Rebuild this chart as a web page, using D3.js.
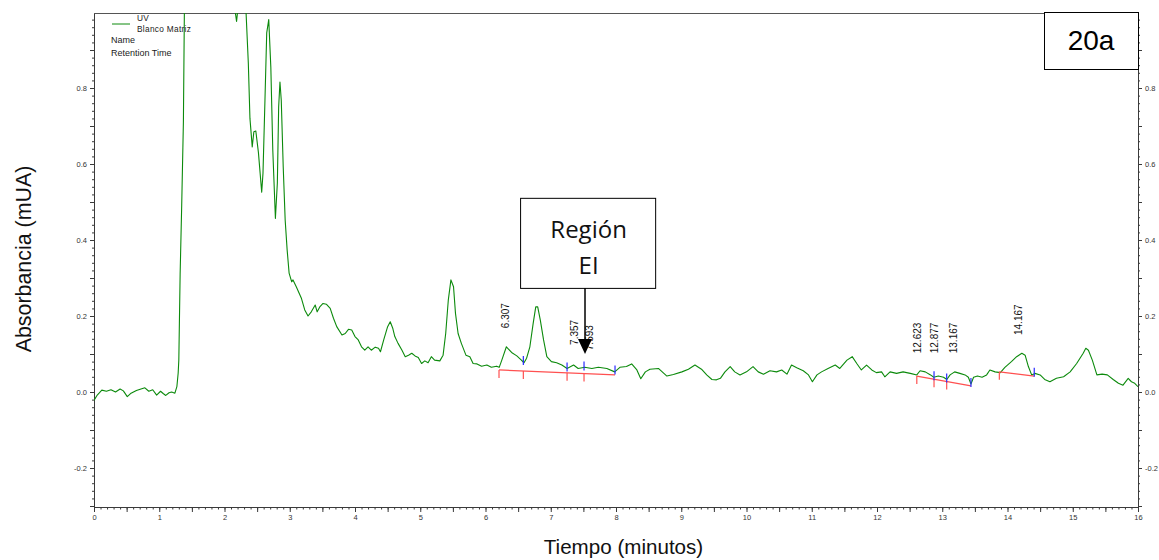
<!DOCTYPE html>
<html>
<head>
<meta charset="utf-8">
<script src="https://cdn.jsdelivr.net/npm/d3@7"></script>
<style>
  body { margin: 0; background: #fff; }
  svg { display: block; font-family: "Liberation Sans", Arial, sans-serif; }
</style>
</head>
<body>
<div id="main"></div>
<script>
// chromatogram trace (time in minutes, absorbance)
var timeMin = [
  0.00, 0.05, 0.12, 0.19, 0.26, 0.33, 0.40, 0.45, 0.51, 0.56,
  0.65, 0.72, 0.78, 0.84, 0.90, 0.96, 1.02, 1.06, 1.10, 1.15,
  1.19, 1.24, 1.27, 1.29, 1.30, 1.32, 1.344, 1.37, 1.385, 1.40,
  2.15, 2.165, 2.185, 2.20, 2.22, 2.31, 2.33, 2.365, 2.39, 2.425,
  2.45, 2.48, 2.52, 2.57, 2.59, 2.62, 2.647, 2.678, 2.71, 2.74,
  2.78, 2.81, 2.83, 2.85, 2.87, 2.90, 2.93, 2.96, 2.99, 3.03,
  3.05, 3.10, 3.18, 3.23, 3.28, 3.33, 3.39, 3.42, 3.46, 3.51,
  3.56, 3.62, 3.67, 3.72, 3.80, 3.85, 3.90, 3.95, 4.00, 4.05,
  4.10, 4.15, 4.20, 4.25, 4.31, 4.36, 4.39, 4.44, 4.50, 4.54,
  4.58, 4.61, 4.66, 4.72, 4.77, 4.82, 4.87, 4.92, 4.97, 5.02,
  5.07, 5.12, 5.17, 5.22, 5.30, 5.35, 5.39, 5.43, 5.47, 5.51,
  5.54, 5.58, 5.63, 5.70, 5.76, 5.81, 5.87, 5.94, 6.02, 6.09,
  6.17, 6.21, 6.25, 6.32, 6.40, 6.48, 6.55, 6.59, 6.63, 6.68,
  6.73, 6.77, 6.80, 6.84, 6.89, 6.94, 7.01, 7.09, 7.17, 7.25,
  7.35, 7.42, 7.52, 7.63, 7.73, 7.86, 7.98, 8.06, 8.16, 8.24,
  8.32, 8.38, 8.45, 8.52, 8.65, 8.78, 8.88, 9.01, 9.11, 9.21,
  9.31, 9.39, 9.47, 9.54, 9.60, 9.67, 9.75, 9.82, 9.90, 10.00,
  10.10, 10.18, 10.26, 10.36, 10.46, 10.54, 10.62, 10.69, 10.77, 10.87,
  10.95, 11.01, 11.08, 11.15, 11.25, 11.36, 11.43, 11.54, 11.62, 11.69,
  11.76, 11.84, 11.92, 11.99, 12.07, 12.12, 12.20, 12.30, 12.40, 12.51,
  12.61, 12.66, 12.74, 12.82, 12.87, 12.94, 13.02, 13.07, 13.12, 13.19,
  13.27, 13.35, 13.40, 13.44, 13.48, 13.54, 13.61, 13.68, 13.73, 13.81,
  13.89, 13.96, 14.06, 14.14, 14.22, 14.27, 14.32, 14.37, 14.42, 14.50,
  14.57, 14.65, 14.75, 14.86, 14.96, 15.06, 15.16, 15.20, 15.24, 15.30,
  15.37, 15.45, 15.53, 15.62, 15.70, 15.77, 15.85, 15.90, 15.95, 16.00
];
var absorbance = [
  -0.022, -0.008, 0.005, 0.002, 0.006, 0.000, 0.008, 0.003, -0.012, -0.004,
  0.004, 0.008, 0.011, 0.002, 0.006, -0.008, 0.002, -0.004, -0.009, -0.002,
  0.000, -0.003, 0.014, 0.050, 0.084, 0.310, 0.490, 0.710, 1.000, 1.250,
  1.250, 1.000, 0.975, 1.000, 1.250, 1.250, 1.000, 0.866, 0.720, 0.645,
  0.685, 0.687, 0.630, 0.526, 0.576, 0.768, 0.945, 0.980, 0.855, 0.637,
  0.457, 0.550, 0.750, 0.816, 0.768, 0.592, 0.452, 0.374, 0.313, 0.290,
  0.295, 0.277, 0.246, 0.216, 0.200, 0.211, 0.229, 0.211, 0.224, 0.233,
  0.231, 0.220, 0.194, 0.172, 0.150, 0.154, 0.165, 0.163, 0.146, 0.137,
  0.119, 0.110, 0.119, 0.110, 0.118, 0.115, 0.106, 0.137, 0.172, 0.185,
  0.167, 0.146, 0.128, 0.110, 0.093, 0.097, 0.102, 0.095, 0.091, 0.075,
  0.082, 0.077, 0.093, 0.084, 0.082, 0.097, 0.154, 0.242, 0.295, 0.277,
  0.207, 0.154, 0.128, 0.097, 0.093, 0.075, 0.074, 0.068, 0.071, 0.065,
  0.068, 0.065, 0.084, 0.119, 0.104, 0.095, 0.084, 0.077, 0.089, 0.119,
  0.180, 0.224, 0.224, 0.189, 0.137, 0.093, 0.080, 0.077, 0.071, 0.062,
  0.071, 0.062, 0.065, 0.062, 0.065, 0.062, 0.053, 0.065, 0.067, 0.074,
  0.058, 0.035, 0.053, 0.060, 0.062, 0.042, 0.046, 0.053, 0.060, 0.071,
  0.060, 0.045, 0.033, 0.032, 0.036, 0.053, 0.067, 0.053, 0.045, 0.053,
  0.067, 0.053, 0.047, 0.056, 0.053, 0.058, 0.047, 0.071, 0.064, 0.056,
  0.045, 0.027, 0.045, 0.053, 0.062, 0.071, 0.062, 0.084, 0.093, 0.075,
  0.058, 0.071, 0.058, 0.051, 0.053, 0.040, 0.053, 0.049, 0.053, 0.049,
  0.045, 0.056, 0.053, 0.045, 0.039, 0.042, 0.039, 0.033, 0.045, 0.053,
  0.049, 0.045, 0.039, 0.021, 0.039, 0.042, 0.039, 0.045, 0.058, 0.053,
  0.051, 0.065, 0.080, 0.093, 0.102, 0.097, 0.067, 0.045, 0.049, 0.045,
  0.033, 0.027, 0.036, 0.040, 0.053, 0.075, 0.102, 0.115, 0.110, 0.084,
  0.045, 0.047, 0.045, 0.033, 0.023, 0.018, 0.036, 0.027, 0.023, 0.014
];

// retention time labels and the absorbance where each label starts
var peakLabels = ["6.307", "7.357", "7.593", "12.623", "12.877", "13.167", "14.167"];
var peakLabelFrom = [0.168, 0.124, 0.110, 0.102, 0.102, 0.102, 0.150];

// integration baselines: [start time, start abs, end time, end abs]
var baselines = [
  [6.207, 0.058, 7.985, 0.045],
  [12.61, 0.042, 13.44, 0.016],
  [13.875, 0.053, 14.41, 0.042]
];
var redMarks = [6.207, 6.58, 7.25, 7.51, 12.61, 12.874, 13.068, 13.875];
var blueMarks = [6.58, 7.25, 7.51, 7.985, 12.874, 13.068, 13.44, 14.41];

var legendLines = ["UV", "Blanco Matriz"];
var legendInfo = ["Name", "Retention Time"];
var regionText = ["Región", "EI"];
var regionBox = {t0: 6.53, t1: 8.60, v0: 0.274, v1: 0.511, tip: 7.525, tipV: 0.10};
var panelTag = "20a";

var ctx = {
  w: 1159, h: 560,
  left: 94, top: 13, right: 1138, bottom: 507,
  GREEN: "#0c8a0c", RED: "#ff5050", BLUE: "#2a2aff", AXIS: "#3a3a3a"
};

var xScale = d3.scaleLinear().domain([0, 16]).range([ctx.left, ctx.right]);
var yScale = d3.scaleLinear().domain([-0.3026, 0.9974]).range([ctx.bottom, ctx.top]);

var traceAt = function(t) {
  var i = d3.bisectLeft(timeMin, t);
  if (i <= 0) return absorbance[0];
  if (i >= timeMin.length) return absorbance[absorbance.length - 1];
  var f = (t - timeMin[i-1]) / (timeMin[i] - timeMin[i-1]);
  return absorbance[i-1] + f * (absorbance[i] - absorbance[i-1]);
};
var baselineAt = function(t) {
  var b = baselines.find(s => t >= s[0] - 1e-6 && t <= s[2] + 1e-6);
  return b[1] + (t - b[0]) / (b[2] - b[0]) * (b[3] - b[1]);
};

var svg = d3.select("#main").append("svg").attr("width", ctx.w).attr("height", ctx.h);

svg.append("clipPath").attr("id", "plotClip").append("rect")
  .attr("x", ctx.left).attr("y", ctx.top)
  .attr("width", ctx.right - ctx.left).attr("height", ctx.bottom - ctx.top);

// axes
var yMajor = d3.range(-3, 10).map(i => i / 10);
var yMinor = d3.range(-15, 50).map(i => i / 50);
var xMajor = d3.range(0, 33).map(i => i / 2);
var xMinor = d3.range(0, 161).map(i => i / 10);
var yFmt = function(v) {
  var r = Math.round(v * 10);
  return r % 2 === 0 ? (r / 10).toFixed(1) : "";
};
var xFmt = function(v) { return Number.isInteger(v) ? String(v) : ""; };

var styleAxis = function(g, fs) {
  g.selectAll("path.domain").attr("stroke", ctx.AXIS);
  g.selectAll(".tick line").attr("stroke", ctx.AXIS);
  g.selectAll(".tick text").attr("fill", "#333").attr("font-size", fs)
    .attr("font-family", "'Liberation Sans', Arial, sans-serif");
};

[[d3.axisLeft, ctx.left], [d3.axisRight, ctx.right]].forEach(function(a) {
  var gMin = svg.append("g").attr("transform", "translate(" + a[1] + ",0)")
    .call(a[0](yScale).tickValues(yMinor).tickSize(2).tickSizeOuter(0).tickFormat(""));
  styleAxis(gMin, 7.5);
  var gMaj = svg.append("g").attr("transform", "translate(" + a[1] + ",0)")
    .call(a[0](yScale).tickValues(yMajor).tickSize(4).tickPadding(3).tickSizeOuter(0).tickFormat(yFmt));
  styleAxis(gMaj, 7.5);
});
var gxMin = svg.append("g").attr("transform", "translate(0," + ctx.bottom + ")")
  .call(d3.axisBottom(xScale).tickValues(xMinor).tickSize(2.5).tickSizeOuter(0).tickFormat(""));
styleAxis(gxMin, 7.5);
var gxMaj = svg.append("g").attr("transform", "translate(0," + ctx.bottom + ")")
  .call(d3.axisBottom(xScale).tickValues(xMajor).tickSize(5).tickPadding(3).tickSizeOuter(0).tickFormat(xFmt));
styleAxis(gxMaj, 7.5);

// top frame line
svg.append("line")
  .attr("x1", ctx.left).attr("x2", ctx.right)
  .attr("y1", ctx.top + 0.5).attr("y2", ctx.top + 0.5)
  .attr("stroke", "#555");

// trace
var plot = svg.append("g").attr("clip-path", "url(#plotClip)");
var line = d3.line().x(d => xScale(d[0])).y(d => yScale(d[1]));
plot.append("path")
  .datum(d3.zip(timeMin, absorbance))
  .attr("d", line)
  .attr("fill", "none")
  .attr("stroke", ctx.GREEN)
  .attr("stroke-width", 1.1)
  .attr("stroke-linejoin", "round");

// integration baselines and marks
plot.selectAll("line.base").data(baselines).enter().append("line")
  .attr("class", "base")
  .attr("x1", d => xScale(d[0])).attr("y1", d => yScale(d[1]))
  .attr("x2", d => xScale(d[2])).attr("y2", d => yScale(d[3]))
  .attr("stroke", ctx.RED).attr("stroke-width", 1.2);
plot.selectAll("line.red").data(redMarks).enter().append("line")
  .attr("class", "red")
  .attr("x1", d => xScale(d)).attr("x2", d => xScale(d))
  .attr("y1", d => yScale(baselineAt(d)))
  .attr("y2", d => yScale(baselineAt(d)) + 8)
  .attr("stroke", ctx.RED).attr("stroke-width", 1.2);
plot.selectAll("line.blue").data(blueMarks).enter().append("line")
  .attr("class", "blue")
  .attr("x1", d => xScale(d)).attr("x2", d => xScale(d))
  .attr("y1", d => yScale(traceAt(d)) + 3)
  .attr("y2", d => yScale(traceAt(d)) - 6)
  .attr("stroke", ctx.BLUE).attr("stroke-width", 1.2);

// retention time labels
svg.selectAll("text.peak").data(peakLabels).enter().append("text")
  .attr("class", "peak")
  .attr("transform", (d, i) => "translate(" + xScale(+d) + "," + yScale(peakLabelFrom[i]) + ") rotate(-90)")
  .attr("dy", "0.35em")
  .attr("font-size", 10)
  .attr("fill", "#111")
  .text(d => d);

// legend
svg.append("line").attr("x1", 112).attr("x2", 130).attr("y1", 24).attr("y2", 24)
  .attr("stroke", ctx.GREEN).attr("stroke-width", 1);
svg.selectAll("text.leg").data(legendLines).enter().append("text")
  .attr("class", "leg")
  .attr("x", 137).attr("y", (d, i) => 20.5 + i * 11)
  .attr("font-size", 8.3).attr("letter-spacing", 0.3).attr("fill", "#222")
  .text(d => d);
svg.selectAll("text.info").data(legendInfo).enter().append("text")
  .attr("class", "info")
  .attr("x", 111).attr("y", (d, i) => 43 + i * 12.5)
  .attr("font-size", 9).attr("fill", "#222")
  .text(d => d);

// "Región EI" call-out with arrow
var bx0 = xScale(regionBox.t0), bx1 = xScale(regionBox.t1);
var by0 = yScale(regionBox.v1), by1 = yScale(regionBox.v0);
var ax = xScale(regionBox.tip), ay = yScale(regionBox.tipV);
svg.append("rect")
  .attr("x", bx0 + 0.5).attr("y", by0 + 0.5)
  .attr("width", bx1 - bx0).attr("height", by1 - by0)
  .attr("fill", "#fff").attr("stroke", "#000").attr("stroke-width", 1);
svg.selectAll("text.region").data(regionText).enter().append("text")
  .attr("class", "region")
  .attr("x", (bx0 + bx1) / 2 + 1).attr("y", (d, i) => by0 + 40 + i * 36)
  .attr("text-anchor", "middle")
  .attr("font-family", "'Open Sans', sans-serif")
  .attr("font-size", 24).attr("fill", "#111")
  .text(d => d);
svg.append("line")
  .attr("x1", ax).attr("x2", ax).attr("y1", by1).attr("y2", ay - 14)
  .attr("stroke", "#000").attr("stroke-width", 1.5);
svg.append("path")
  .attr("d", "M" + (ax - 7) + "," + (ay - 15) + "L" + (ax + 7) + "," + (ay - 15) + "L" + ax + "," + ay + "Z")
  .attr("fill", "#000");

// panel tag box
svg.append("rect")
  .attr("x", ctx.right - 94 + 0.5).attr("y", ctx.top - 0.5)
  .attr("width", 94).attr("height", 57)
  .attr("fill", "#fff").attr("stroke", "#000").attr("stroke-width", 1);
svg.append("text")
  .attr("x", ctx.right - 47).attr("y", 50)
  .attr("text-anchor", "middle").attr("font-size", 28).attr("fill", "#000")
  .text(panelTag);

// axis titles
svg.append("text")
  .attr("x", 623.5).attr("y", 554)
  .attr("text-anchor", "middle").attr("font-size", 20.6).attr("fill", "#111")
  .text("Tiempo (minutos)");
svg.append("text")
  .attr("transform", "translate(30.5,259) rotate(-90)")
  .attr("text-anchor", "middle").attr("font-size", 21.4).attr("fill", "#111")
  .text("Absorbancia (mUA)");
</script>
</body>
</html>
